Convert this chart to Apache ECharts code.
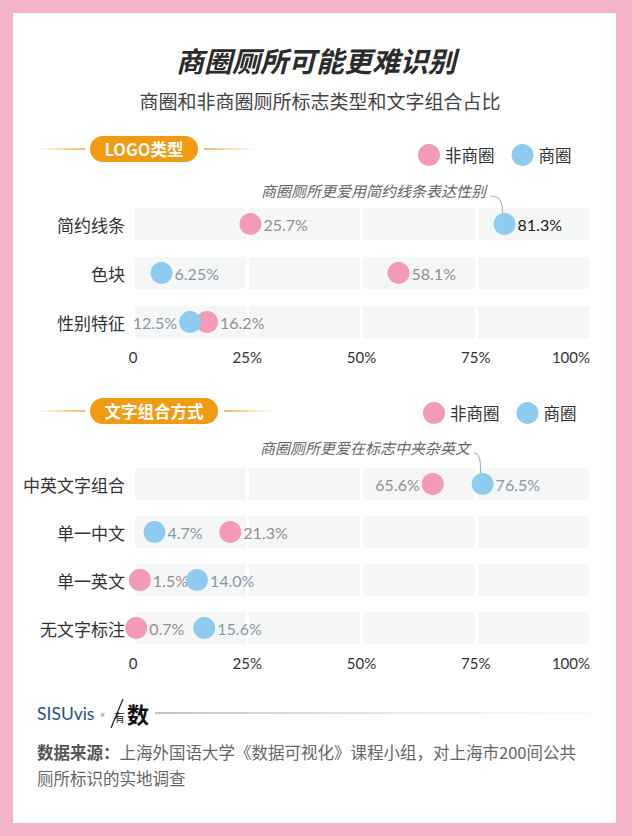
<!DOCTYPE html>
<html>
<head>
<meta charset="utf-8">
<script src="https://cdn.jsdelivr.net/npm/echarts@6/dist/echarts.min.js"></script>
<style>
html,body{margin:0;padding:0;background:#fff;}
#chart{width:632px;height:836px;}
</style>
</head>
<body>
<div id="chart"></div>
<script>
// ---- data ----
const logoCats = ['简约线条', '色块', '性别特征'];
const logoNonMall = [25.7, 58.1, 16.2];
const logoMall = [81.3, 6.25, 12.5];
const textCats = ['中英文字组合', '单一中文', '单一英文', '无文字标注'];
const textNonMall = [65.6, 21.3, 1.5, 0.7];
const textMall = [76.5, 4.7, 14.0, 15.6];
const xTickLabels = ['0', '25%', '50%', '75%', '100%'];
const seriesNames = ['非商圈', '商圈'];

// ---- style ----
const PINK = '#f29ab6';
const BLUE = '#8fcbef';
const PINK_LABEL = '#9c8893';
const BLUE_LABEL = '#8597a7';
const CJK = '"Noto Sans CJK SC", "Noto Sans", sans-serif';
const NUM = 'Lato, "Noto Sans", sans-serif';

function fmt(v) {
  return (Number.isInteger(Math.round(v * 100) / 10) ? v.toFixed(1) : String(v)) + '%';
}

// label overrides (style only): keys "grid|series|index"
const labelLeft = { '0|1|2': true, '1|0|0': true };
const labelDark = { '0|1|0': true };

function scatterSeries(gridIdx, sIdx, values) {
  const isPink = sIdx === 0;
  return {
    type: 'scatter',
    name: seriesNames[sIdx],
    xAxisIndex: gridIdx, yAxisIndex: gridIdx,
    symbol: 'circle', symbolSize: 22,
    z: 5,
    itemStyle: { color: isPink ? PINK : BLUE, opacity: 1 },
    data: values.map((v, i) => {
      const key = gridIdx + '|' + sIdx + '|' + i;
      return {
        value: [v, i],
        label: {
          show: true,
          position: labelLeft[key] ? 'left' : 'right',
          distance: 2,
          formatter: fmt(v),
          color: labelDark[key] ? '#222' : (isPink ? PINK_LABEL : BLUE_LABEL),
          fontFamily: NUM, fontSize: 16
        }
      };
    })
  };
}

function bgSeries(gridIdx, cats) {
  return {
    type: 'bar', name: 'bg', silent: true,
    xAxisIndex: gridIdx, yAxisIndex: gridIdx,
    barWidth: 32, z: 1,
    itemStyle: { color: '#f5f7f7' },
    data: cats.map(() => 100),
    tooltip: { show: false }
  };
}

function xAxis(gridIdx) {
  return {
    type: 'value', gridIndex: gridIdx, min: 0, max: 100, interval: 25, z: 2,
    axisLine: { show: false }, axisTick: { show: false },
    splitLine: { show: true, lineStyle: { color: '#ffffff', width: 3 } },
    axisLabel: {
      margin: 3, color: '#333', fontFamily: NUM, fontSize: 15,
      alignMaxLabel: 'right',
      formatter: (v) => xTickLabels[Math.round(v / 25)]
    }
  };
}
function yAxis(gridIdx, cats) {
  return {
    type: 'category', gridIndex: gridIdx, data: cats, inverse: true,
    axisLine: { show: false }, axisTick: { show: false }, splitLine: { show: false },
    axisLabel: { margin: 8, color: '#333', fontFamily: CJK, fontSize: 17 }
  };
}

function pill(x, y, w, text) {
  return [
    { type: 'rect', shape: { x: x, y: y, width: w, height: 26, r: 13 }, style: { fill: '#f19a12' }, z: 10 },
    { type: 'text', x: x + w / 2, y: y + 13, z: 11,
      style: { text: text, fill: '#fff', font: 'bold 16.5px ' + CJK, textAlign: 'center', textVerticalAlign: 'middle' } }
  ];
}
function sideLine(x1, x2, y, fadeLeft) {
  const a = 'rgba(241,154,18,0)', b = 'rgba(241,154,18,0.9)';
  return { type: 'line', z: 10, shape: { x1: x1, y1: y, x2: x2, y2: y },
    style: { lineWidth: 1.5,
      stroke: new echarts.graphic.LinearGradient(x1, 0, x2, 0, fadeLeft
        ? [{ offset: 0, color: a }, { offset: 1, color: b }]
        : [{ offset: 0, color: b }, { offset: 1, color: a }], true) } };
}

const chart = echarts.init(document.getElementById('chart'), null, { renderer: 'svg' });

const graphics = [
  { type: 'rect', shape: { x: 0, y: 0, width: 632, height: 836 }, style: { fill: '#f4b4c7' }, z: -10, silent: true },
  { type: 'rect', shape: { x: 13, y: 13, width: 603, height: 810 }, style: { fill: '#ffffff' }, z: -9, silent: true },
  { type: 'text', x: 316, y: 60, z: 10, style: { text: '商圈厕所可能更难识别', fill: '#2b2b2b',
      font: 'italic bold 28px ' + CJK, textAlign: 'center', textVerticalAlign: 'middle' } },
  { type: 'text', x: 320, y: 100, z: 10, style: { text: '商圈和非商圈厕所标志类型和文字组合占比', fill: '#444',
      font: '19px ' + CJK, textAlign: 'center', textVerticalAlign: 'middle' } },
  sideLine(35, 85, 149, true), sideLine(204, 256, 149, false),
  ...pill(90, 136, 108, 'LOGO类型'),
  sideLine(35, 85, 411, true), sideLine(224, 276, 411, false),
  ...pill(90, 398, 128, '文字组合方式'),
  { type: 'text', x: 486, y: 190, z: 10, style: { text: '商圈厕所更爱用简约线条表达性别', fill: '#666',
      font: 'italic 15px ' + CJK, textAlign: 'right', textVerticalAlign: 'middle' } },
  { type: 'text', x: 470, y: 447, z: 10, style: { text: '商圈厕所更爱在标志中夹杂英文', fill: '#666',
      font: 'italic 15px ' + CJK, textAlign: 'right', textVerticalAlign: 'middle' } },
  // footer
  { type: 'text', x: 37, y: 713, z: 10, style: { text: 'SISUvis', fill: '#1f5185',
      font: '17.5px ' + NUM, textAlign: 'left', textVerticalAlign: 'middle' } },
  { type: 'text', x: 100, y: 714, z: 10, style: { text: '×', fill: '#888',
      font: '9px ' + NUM, textAlign: 'left', textVerticalAlign: 'middle' } },
  { type: 'line', z: 10, shape: { x1: 111, y1: 728, x2: 123, y2: 699 }, style: { stroke: '#222', lineWidth: 1.2 } },
  { type: 'text', x: 114, y: 717, z: 10, style: { text: '有', fill: '#222',
      font: '11px ' + CJK, textAlign: 'left', textVerticalAlign: 'middle' } },
  { type: 'text', x: 127, y: 713, z: 10, style: { text: '数', fill: '#111',
      font: 'bold 22px ' + CJK, textAlign: 'left', textVerticalAlign: 'middle' } },
  { type: 'line', z: 10, shape: { x1: 155, y1: 713, x2: 590, y2: 713 },
    style: { lineWidth: 1.2, stroke: new echarts.graphic.LinearGradient(155, 0, 590, 0,
      [{ offset: 0, color: '#888' }, { offset: 1, color: 'rgba(200,200,200,0.2)' }], true) } },
  { type: 'text', x: 37, y: 752, z: 10, style: {
      text: '{b|数据来源：}{n|上海外国语大学《数据可视化》课程小组，对上海市200间公共}',
      textAlign: 'left', textVerticalAlign: 'middle',
      rich: { b: { font: 'bold 16.5px ' + CJK, fill: '#555' }, n: { font: '16.5px ' + CJK, fill: '#666' } } } },
  { type: 'text', x: 37, y: 778, z: 10, style: { text: '厕所标识的实地调查', fill: '#666',
      font: '16.5px ' + CJK, textAlign: 'left', textVerticalAlign: 'middle' } }
];

chart.setOption({
  animation: false,
  backgroundColor: 'transparent',
  legend: [
    { data: seriesNames, left: 413, top: 139, icon: 'circle', itemWidth: 22, itemHeight: 22, itemGap: 17,
      textStyle: { fontFamily: CJK, fontSize: 16.5, color: '#333' } },
    { data: seriesNames, left: 418, top: 397, icon: 'circle', itemWidth: 22, itemHeight: 22, itemGap: 17,
      textStyle: { fontFamily: CJK, fontSize: 16.5, color: '#333' } }
  ],
  grid: [
    { left: 133, right: 42, top: 199.5, height: 147 },
    { left: 133, right: 42, top: 460, height: 192 }
  ],
  xAxis: [xAxis(0), xAxis(1)],
  yAxis: [yAxis(0, logoCats), yAxis(1, textCats)],
  series: [
    bgSeries(0, logoCats),
    scatterSeries(0, 0, logoNonMall),
    scatterSeries(0, 1, logoMall),
    bgSeries(1, textCats),
    scatterSeries(1, 0, textNonMall),
    scatterSeries(1, 1, textMall)
  ],
  graphic: graphics
});

// connectors from annotations to the highlighted dots, positioned via the axes
const p1 = chart.convertToPixel({ seriesIndex: 2 }, [logoMall[0], 0]);
const p2 = chart.convertToPixel({ seriesIndex: 5 }, [textMall[0], 0]);
function connector(sx, sy, p) {
  const ex = p[0] - 2, ey = p[1] - 11;
  return { type: 'bezierCurve', z: 10, silent: true,
    shape: { x1: sx, y1: sy, cpx1: sx + (ex - sx) * 0.8, cpy1: sy, cpx2: ex, cpy2: sy + (ey - sy) * 0.3, x2: ex, y2: ey },
    style: { stroke: '#aaa', lineWidth: 1, fill: 'none' } };
}
chart.setOption({ graphic: graphics.concat([connector(490, 196, p1), connector(474, 453, p2)]) });
</script>
</body>
</html>
